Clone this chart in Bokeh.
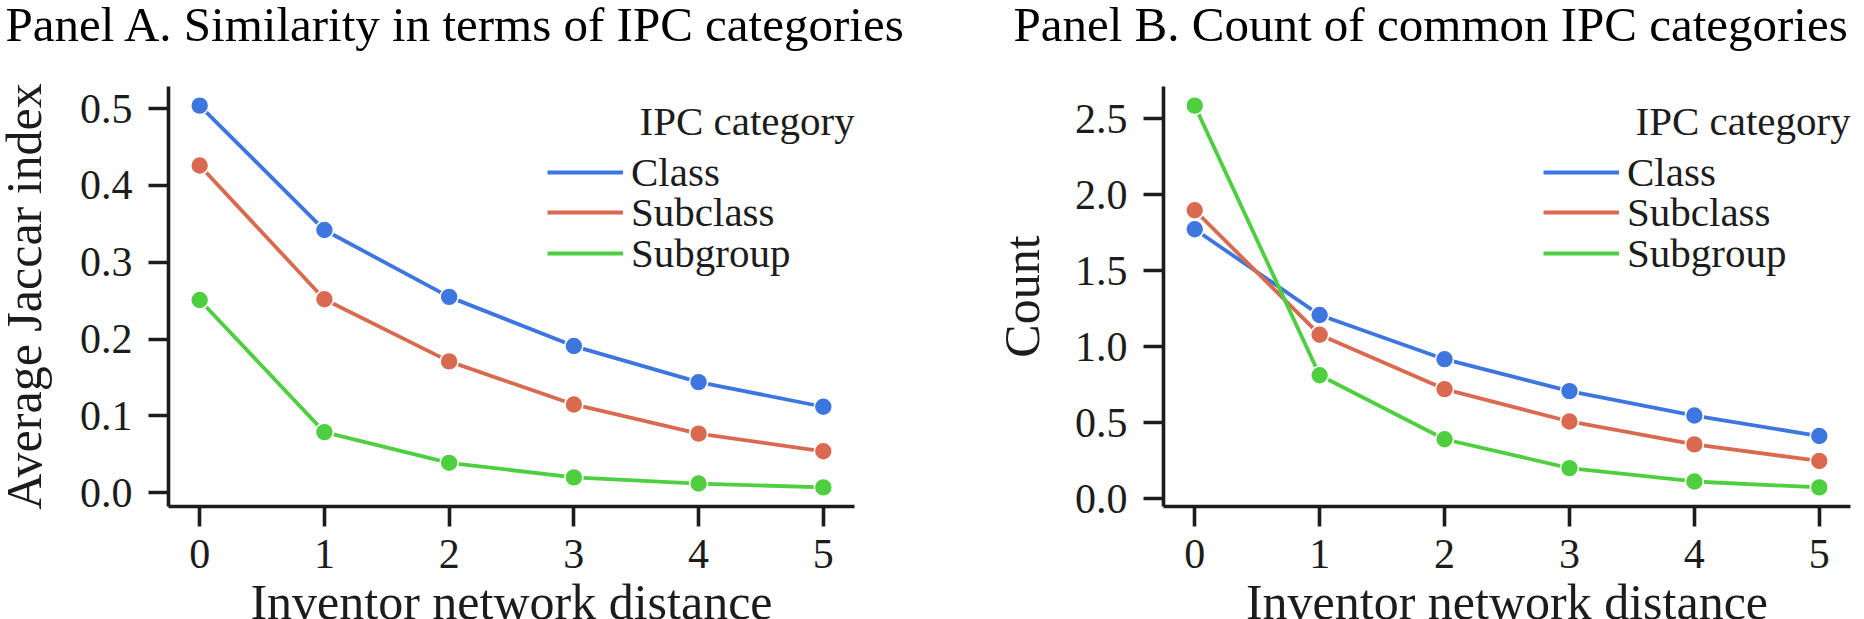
from bokeh.plotting import figure
from bokeh.models import Range1d, Legend, LegendItem, Label, FixedTicker
from bokeh.layouts import row
from bokeh.embed import file_html
from bokeh.resources import INLINE

# Inventor network distance (x axis shared by both panels)
distance = [0, 1, 2, 3, 4, 5]
series_names = ["Class", "Subclass", "Subgroup"]

# Panel A: average Jaccard index of IPC categories
jaccard_class = [0.504, 0.342, 0.255, 0.191, 0.144, 0.112]
jaccard_subclass = [0.426, 0.252, 0.171, 0.115, 0.077, 0.054]
jaccard_subgroup = [0.251, 0.079, 0.039, 0.020, 0.012, 0.007]

# Panel B: count of common IPC categories
count_class = [1.772, 1.208, 0.917, 0.707, 0.546, 0.411]
count_subclass = [1.897, 1.078, 0.720, 0.507, 0.356, 0.247]
count_subgroup = [2.586, 0.811, 0.390, 0.200, 0.112, 0.073]

yticks_a = [0.0, 0.1, 0.2, 0.3, 0.4, 0.5]
yticks_b = [0.0, 0.5, 1.0, 1.5, 2.0, 2.5]

COLORS = ["#3d76de", "#d96a50", "#4ecf40"]
FONT = "Liberation Serif"
INK = "#1c1c1c"

LIFT = 37              # each panel is pulled up so its heading can hug the page top
FRAME_TOP = 86 + LIFT
FRAME_H = 420
BORDER_BOTTOM = 113


def padded(lo, hi, frac=0.05):
    span = hi - lo
    return Range1d(lo - frac * span, hi + frac * span)


def make_panel(title, ylabel, series, yticks, border_left, frame_w, border_right,
               title_x, ylabel_standoff, shift=0):
    ys = [v for s in series for v in s]
    p = figure(
        title=title,
        frame_width=frame_w, frame_height=FRAME_H,
        min_border_left=border_left, min_border_right=border_right,
        min_border_top=FRAME_TOP, min_border_bottom=BORDER_BOTTOM,
        output_backend="svg", toolbar_location=None,
        x_range=padded(min(distance), max(distance)),
        y_range=padded(min(ys), max(ys)),
        margin=(-LIFT, 0, 0, -shift),
    )
    p.outline_line_color = None
    p.grid.visible = False

    p.title.align = "left"
    p.title.vertical_align = "top"
    p.title.offset = title_x - border_left
    p.title.standoff = 66
    p.title.text_font = FONT
    p.title.text_font_size = "49px"
    p.title.text_font_style = "normal"
    p.title.text_color = "black"

    line_renderers = []
    for vals, color in zip(series, COLORS):
        r = p.line(distance, vals, line_color=color, line_width=3.8)
        p.scatter(distance, vals, size=18, fill_color=color,
                  line_color="white", line_width=1.6)
        line_renderers.append(r)

    xaxis = p.below[0]
    yaxis = p.left[0]
    for ax in (xaxis, yaxis):
        ax.axis_line_width = 3.6
        ax.axis_line_color = INK
        ax.major_tick_line_width = 3.6
        ax.major_tick_line_color = INK
        ax.major_tick_out = 20
        ax.major_tick_in = 0
        ax.minor_tick_out = 0
        ax.minor_tick_in = 0
        ax.major_label_text_font = FONT
        ax.major_label_text_font_size = "42px"
        ax.major_label_text_color = INK
        ax.axis_label_text_font = FONT
        ax.axis_label_text_font_size = "50px"
        ax.axis_label_text_font_style = "normal"
        ax.axis_label_text_color = INK

    xaxis.ticker = FixedTicker(ticks=distance)
    xaxis.axis_label = "Inventor network distance"
    xaxis.major_label_standoff = 13
    xaxis.axis_label_standoff = 3

    yaxis.ticker = FixedTicker(ticks=yticks)
    yaxis.major_label_overrides = {t: f"{t:.1f}" for t in yticks}
    yaxis.axis_label = ylabel
    yaxis.major_label_standoff = 16
    yaxis.axis_label_standoff = ylabel_standoff

    # one single-row legend per series keeps the rows tightly stacked
    legend_x = frame_w - 307
    row_centres = [86, 126, 167]   # distance of each row centre below the frame top
    for name, r, c in zip(series_names, line_renderers, row_centres):
        p.add_layout(Legend(
            items=[LegendItem(label=name, renderers=[r])],
            location=(legend_x, FRAME_H - c - 24),
            glyph_width=76, glyph_height=48, label_height=48,
            label_standoff=8, spacing=0, padding=0, margin=0,
            label_text_font=FONT, label_text_font_size="41px",
            label_text_color=INK,
            border_line_color=None, background_fill_alpha=0,
        ))

    p.add_layout(Label(
        x=legend_x + 92, y=FRAME_H - 34, x_units="screen", y_units="screen",
        text="IPC category", text_font=FONT, text_font_size="41px",
        text_color=INK, text_baseline="middle", text_align="left",
    ))
    return p


# panel A is pulled 20px left so its long y-axis label can sit near the page edge
pa = make_panel("Panel A. Similarity in terms of IPC categories", "Average Jaccar index",
                [jaccard_class, jaccard_subclass, jaccard_subgroup], yticks_a,
                188, 686, 78, 25, 25, shift=20)
pb = make_panel("Panel B. Count of common IPC categories", "Count",
                [count_class, count_subclass, count_subgroup], yticks_b,
                231, 687, 14, 81, 22)

layout = row(pa, pb)
open("out.html", "w").write(file_html(layout, INLINE))
